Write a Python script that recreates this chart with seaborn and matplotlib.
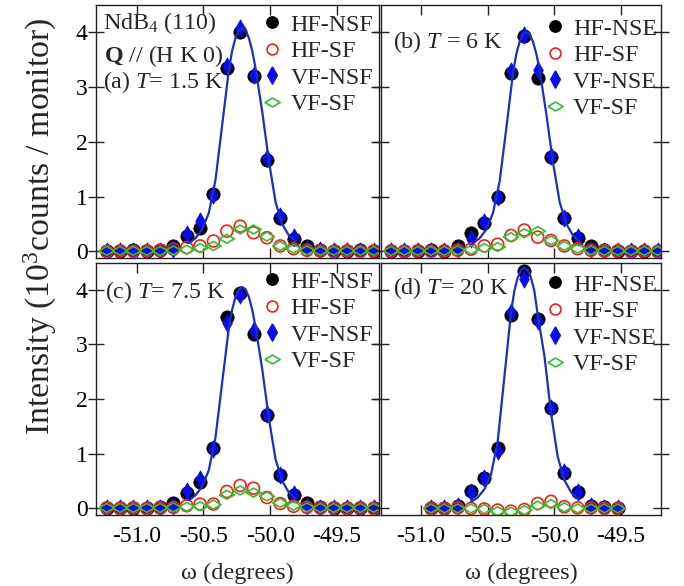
import matplotlib
matplotlib.use("Agg")
import matplotlib.pyplot as plt
import seaborn as sns
from matplotlib.lines import Line2D

# ---------------- data ----------------
x_abc = [-51.225, -51.125, -51.025, -50.925, -50.825, -50.725, -50.625, -50.525,
         -50.425, -50.325, -50.225, -50.125, -50.025, -49.925, -49.825, -49.725,
         -49.625, -49.525, -49.425, -49.325, -49.225]
x_d = [-50.925, -50.825, -50.725, -50.625, -50.525, -50.425, -50.325, -50.225,
       -50.125, -50.025, -49.925, -49.825, -49.725, -49.625, -49.525]

a_hf_nsf = [0.01, 0.01, 0.02, 0.01, 0.02, 0.10, 0.28, 0.43, 1.04, 3.34, 3.99, 3.19, 1.66, 0.61, 0.23, 0.10, 0.02, 0.01, 0.01, 0.02, 0.01]
a_vf_nsf = [0.00, 0.01, 0.00, 0.01, 0.01, 0.04, 0.31, 0.55, 1.02, 3.37, 4.07, 3.22, 1.70, 0.64, 0.27, 0.06, 0.02, 0.01, 0.00, 0.01, 0.00]
a_hf_sf = [0.00, 0.01, 0.00, 0.01, 0.02, 0.04, 0.07, 0.10, 0.19, 0.37, 0.46, 0.34, 0.25, 0.10, 0.05, 0.02, 0.01, 0.00, 0.01, 0.00, 0.01]
a_vf_sf = [0.01, 0.01, 0.01, 0.01, 0.01, 0.02, 0.03, 0.06, 0.10, 0.23, 0.40, 0.40, 0.27, 0.10, 0.05, 0.02, 0.01, 0.01, 0.01, 0.01, 0.01]

b_hf_nsf = [0.01, 0.01, 0.01, 0.02, 0.01, 0.10, 0.34, 0.51, 0.99, 3.26, 3.93, 3.16, 1.72, 0.60, 0.25, 0.09, 0.02, 0.01, 0.01, 0.01, 0.01]
b_vf_nsf = [0.00, 0.01, 0.00, 0.00, 0.01, 0.04, 0.22, 0.53, 1.00, 3.28, 3.95, 3.31, 1.74, 0.61, 0.26, 0.04, 0.01, 0.00, 0.01, 0.00, 0.00]
b_hf_sf = [0.01, 0.00, 0.01, 0.00, 0.01, 0.02, 0.04, 0.10, 0.13, 0.29, 0.39, 0.26, 0.20, 0.10, 0.05, 0.02, 0.01, 0.01, 0.00, 0.01, 0.00]
b_vf_sf = [0.01, 0.01, 0.01, 0.01, 0.01, 0.02, 0.03, 0.06, 0.08, 0.26, 0.33, 0.37, 0.20, 0.10, 0.05, 0.02, 0.01, 0.01, 0.01, 0.01, 0.01]

c_hf_nsf = [0.01, 0.01, 0.01, 0.01, 0.02, 0.10, 0.28, 0.49, 1.10, 3.51, 3.94, 3.20, 1.71, 0.61, 0.25, 0.10, 0.02, 0.01, 0.01, 0.01, 0.01]
c_vf_nsf = [0.00, 0.01, 0.00, 0.01, 0.01, 0.04, 0.31, 0.54, 1.08, 3.39, 3.91, 3.27, 1.72, 0.61, 0.27, 0.05, 0.01, 0.01, 0.00, 0.01, 0.00]
c_hf_sf = [0.01, 0.00, 0.01, 0.00, 0.01, 0.02, 0.05, 0.08, 0.08, 0.31, 0.42, 0.37, 0.20, 0.09, 0.04, 0.02, 0.01, 0.01, 0.00, 0.01, 0.00]
c_vf_sf = [0.01, 0.01, 0.01, 0.01, 0.01, 0.02, 0.03, 0.04, 0.07, 0.25, 0.33, 0.29, 0.22, 0.10, 0.05, 0.02, 0.01, 0.01, 0.01, 0.01, 0.01]

d_hf_nsf = [0.01, 0.01, 0.05, 0.31, 0.56, 1.11, 3.53, 4.35, 3.47, 1.83, 0.64, 0.30, 0.05, 0.02, 0.01]
d_vf_nsf = [0.01, 0.01, 0.05, 0.30, 0.55, 1.05, 3.59, 4.20, 3.42, 1.83, 0.66, 0.30, 0.05, 0.01, 0.01]
d_hf_sf = [0.00, 0.00, 0.01, 0.00, -0.01, -0.03, -0.05, -0.02, 0.09, 0.13, 0.03, 0.01, 0.01, 0.00, 0.00]
d_vf_sf = [0.00, 0.00, 0.00, 0.00, -0.01, -0.05, -0.06, -0.03, 0.05, 0.08, 0.02, 0.00, 0.00, 0.00, 0.00]

# fitted curves
fit_x_a = [-50.61, -50.56, -50.51, -50.46, -50.41, -50.36, -50.31, -50.285, -50.26, -50.235, -50.21,
           -50.185, -50.16, -50.135, -50.11, -50.06, -50.01, -49.96, -49.91, -49.86, -49.81]
fit_y_a = [0.15, 0.24, 0.40, 0.70, 1.30, 2.30, 3.30, 3.66, 3.89, 4.03, 4.07,
           4.03, 3.89, 3.66, 3.34, 2.55, 1.65, 0.90, 0.50, 0.29, 0.18]
fit_x_b = [-50.61, -50.56, -50.51, -50.46, -50.41, -50.36, -50.31, -50.285, -50.26, -50.235, -50.21,
           -50.185, -50.16, -50.135, -50.11, -50.06, -50.01, -49.96, -49.91, -49.86, -49.81]
fit_y_b = [0.15, 0.24, 0.40, 0.70, 1.28, 2.25, 3.25, 3.60, 3.82, 3.96, 4.00,
           3.96, 3.82, 3.60, 3.30, 2.50, 1.62, 0.90, 0.50, 0.29, 0.18]
fit_x_c = [-50.61, -50.56, -50.51, -50.46, -50.41, -50.36, -50.31, -50.285, -50.26, -50.235, -50.21,
           -50.185, -50.16, -50.135, -50.11, -50.06, -50.01, -49.96, -49.91, -49.86, -49.81]
fit_y_c = [0.15, 0.24, 0.40, 0.70, 1.30, 2.30, 3.30, 3.64, 3.87, 4.01, 4.05,
           4.01, 3.87, 3.64, 3.32, 2.55, 1.65, 0.90, 0.50, 0.29, 0.18]
fit_x_d = [-50.625, -50.575, -50.525, -50.475, -50.425, -50.375, -50.325, -50.30, -50.275, -50.25, -50.225,
           -50.20, -50.175, -50.15, -50.125, -50.075, -50.025, -49.975, -49.925, -49.875, -49.825]
fit_y_d = [0.12, 0.20, 0.35, 0.62, 1.22, 2.40, 3.58, 3.98, 4.22, 4.36, 4.40,
           4.36, 4.22, 3.98, 3.55, 2.80, 1.75, 0.95, 0.52, 0.30, 0.18]

labels_f = ["HF-NSF", "HF-SF", "VF-NSF", "VF-SF"]
labels_e = ["HF-NSE", "HF-SF", "VF-NSE", "VF-SF"]
x_ticks = [-51.0, -50.5, -50.0, -49.5]
x_ticklabels = ["-51.0", "-50.5", "-50.0", "-49.5"]
y_ticks = [0, 1, 2, 3, 4]

# ---------------- style ----------------
sns.set_style("ticks")
plt.rcParams["font.family"] = ["Liberation Serif", "DejaVu Serif"]
plt.rcParams["mathtext.fontset"] = "custom"
plt.rcParams["mathtext.rm"] = "Liberation Serif"
plt.rcParams["mathtext.it"] = "Liberation Serif:italic"
plt.rcParams["mathtext.bf"] = "Liberation Serif:bold"
plt.rcParams["axes.unicode_minus"] = False

FS_TICK = 17.0
FS_LEG = 17.2
FS_TXT = 17.3
FS_XL = 17.5
BLACK = "#000000"
RED = "#ff1a1a"
BLUE = "#0a0af0"
LINE = "#1a2fc4"
GREEN = "#2ec42e"
THIN_D = [(0, 1), (0.56, 0), (0, -1), (-0.56, 0), (0, 1)]
WIDE_D = [(-1, 0), (0, 0.58), (1, 0), (0, -0.58), (-1, 0)]

W, H = 684, 586
fig = plt.figure(figsize=(W / 100, H / 100), dpi=100)


def px_axes(x0, y0, x1, y1):
    return fig.add_axes([x0 / W, 1 - y1 / H, (x1 - x0) / W, (y1 - y0) / H])


ax_a = px_axes(96, 5, 379, 258)
ax_b = px_axes(381, 5, 661, 258)
ax_c = px_axes(96, 263, 379, 515)
ax_d = px_axes(381, 263, 661, 515)

panels = [
    (ax_a, x_abc, a_hf_nsf, a_hf_sf, a_vf_nsf, a_vf_sf, fit_x_a, fit_y_a, labels_f, (-51.305, -49.185)),
    (ax_b, x_abc, b_hf_nsf, b_hf_sf, b_vf_nsf, b_vf_sf, fit_x_b, fit_y_b, labels_e, (-51.30, -49.20)),
    (ax_c, x_abc, c_hf_nsf, c_hf_sf, c_vf_nsf, c_vf_sf, fit_x_c, fit_y_c, labels_f, (-51.305, -49.185)),
    (ax_d, x_d, d_hf_nsf, d_hf_sf, d_vf_nsf, d_vf_sf, fit_x_d, fit_y_d, labels_e, (-51.30, -49.20)),
]

S_BLACK, S_RED, S_BLUE, S_GREEN = 9.6, 8.6, 12.5, 11.0
LEG_BLACK, LEG_RED = 8.2, 7.8
rgaps = {0: 6, 1: 4, 2: 6, 3: 4}
tgaps = {0: 9, 1: 13, 2: 8, 3: 11}

for i, (ax, xs, hfn, hfs, vfn, vfs, fx, fy, labs, xl) in enumerate(panels):
    sns.scatterplot(x=xs, y=hfn, ax=ax, marker="o", s=S_BLACK ** 2, color=BLACK,
                    edgecolor=BLACK, linewidth=0.5, zorder=3, legend=False)
    sns.scatterplot(x=xs, y=vfn, ax=ax, marker=THIN_D, s=S_BLUE ** 2, color=BLUE,
                    edgecolor=BLUE, linewidth=0.5, zorder=4, legend=False)
    sns.scatterplot(x=xs, y=hfs, ax=ax, marker="o", s=S_RED ** 2, facecolor="none",
                    edgecolor=RED, linewidth=1.2, zorder=5, legend=False)
    sns.scatterplot(x=xs, y=vfs, ax=ax, marker=WIDE_D, s=S_GREEN ** 2, facecolor="none",
                    edgecolor=GREEN, linewidth=1.2, zorder=6, legend=False)
    sns.lineplot(x=fx, y=fy, ax=ax, color=LINE, lw=1.6, sort=False, estimator=None,
                 zorder=7, legend=False)

    ax.set_xlim(*xl)
    ax.set_ylim(-0.12, 4.49)
    ax.set_xticks(x_ticks)
    ax.set_yticks(y_ticks)
    ax.set_xlabel("")
    ax.set_ylabel("")
    for sp in ax.spines.values():
        sp.set_visible(True)
        sp.set_color("#222222")
        sp.set_linewidth(1.0)
    ax.tick_params(axis="both", which="major", top=True, right=True, color="#222222",
                   width=1.0, labelsize=FS_TICK, labelcolor="black")
    ax.tick_params(axis="x", direction="in", length=7, pad=8)
    ax.tick_params(axis="y", direction="inout", length=12, pad=0)
    left = i in (0, 2)
    bottom = i in (2, 3)
    ax.tick_params(labelleft=left, labelbottom=bottom)
    if bottom:
        ax.set_xticklabels(x_ticklabels)
        ax.set_xlabel("\u03c9 (degrees)", fontsize=FS_XL, labelpad=11)

    handles = [
        Line2D([], [], ls="", marker="o", ms=LEG_BLACK, mfc=BLACK, mec=BLACK),
        Line2D([], [], ls="", marker="o", ms=LEG_RED, mfc="none", mec=RED, mew=1.2),
        Line2D([], [], ls="", marker=THIN_D, ms=S_BLUE, mfc=BLUE, mec=BLUE),
        Line2D([], [], ls="", marker=WIDE_D, ms=S_GREEN, mfc="none", mec=GREEN, mew=1.2),
    ]
    wpx = ax.get_position().width * W
    hpx = ax.get_position().height * H
    ax.legend(handles, labs, loc="upper right",
              bbox_to_anchor=(1 - rgaps[i] / wpx, 1 - tgaps[i] / hpx),
              frameon=False, fontsize=FS_LEG, borderpad=0, borderaxespad=0,
              handlelength=1.0, handletextpad=0.25, labelspacing=0.2)


def ftext(x, y, s, **kw):
    fig.text(x / W, 1 - y / H, s, fontsize=FS_TXT, va="baseline", ha="left", **kw)


ftext(103, 29.5, "NdB$_4$ (110)")
ftext(104, 62, r"$\mathbf{Q}$ // (H K 0)")
ftext(103, 88, "(a) $T$= 1.5 K")
ftext(393, 48.5, "(b) $T$ = 6 K")
ftext(105, 298, "(c) $T$= 7.5 K")
ftext(393, 294, "(d) $T$= 20 K")

fig.text(40 / W, 1 - 226 / H, "Intensity (10$^{3}$counts / monitor)", fontsize=24.3,
         rotation=90, ha="center", va="center")

fig.savefig("out.png", dpi=100)
